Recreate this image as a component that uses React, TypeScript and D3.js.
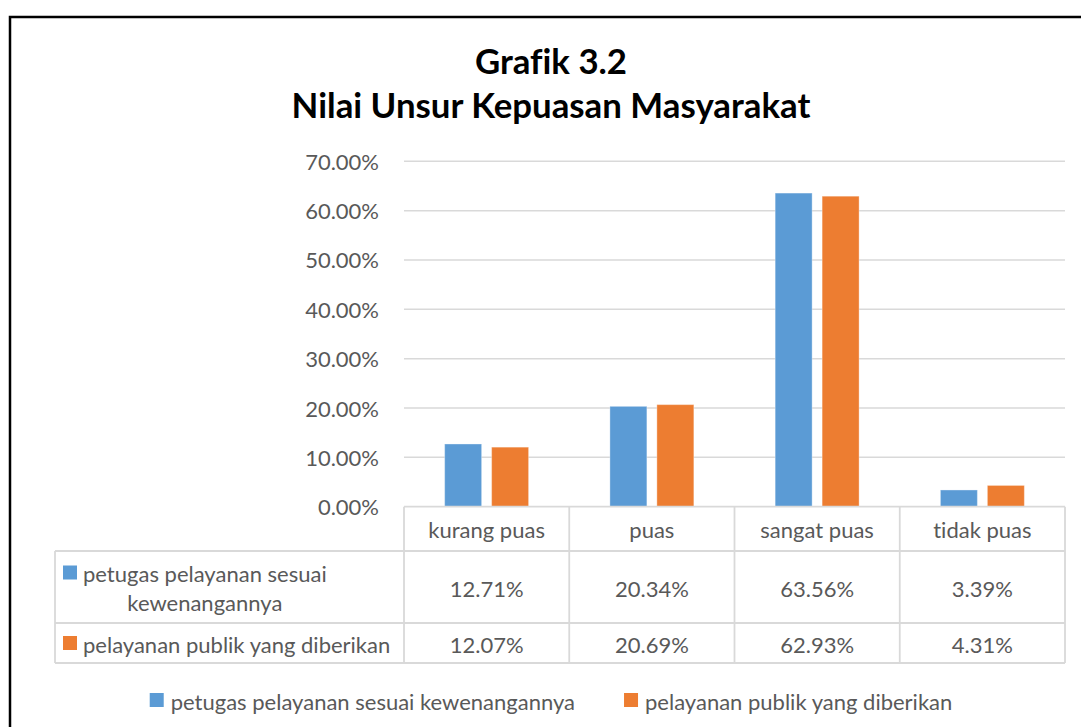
import React, { useEffect, useRef } from "react";
import * as d3 from "d3";

const titleLines = ["Grafik 3.2", "Nilai Unsur Kepuasan Masyarakat"];
const categories = ["kurang puas", "puas", "sangat puas", "tidak puas"];
const seriesNames = ["petugas pelayanan sesuai kewenangannya", "pelayanan publik yang diberikan"];
const seriesA = [12.71, 20.34, 63.56, 3.39];
const seriesB = [12.07, 20.69, 62.93, 4.31];
const yTicks = [0, 10, 20, 30, 40, 50, 60, 70];
const colors = ["#5B9BD5", "#ED7D31"];

export default function App() {
  const ref = useRef<SVGSVGElement>(null);
  useEffect(() => {
    const svg = d3.select(ref.current as SVGSVGElement);
    svg.selectAll("*").remove();
    svg.style("font-variant-ligatures", "none");
    const font = 'Lato, "Open Sans", sans-serif';
    const gray = "#595959";
    const grid = "#d9d9d9";
    const fs = 22;
    const series = [seriesA, seriesB];

    svg.append("rect").attr("x", 10).attr("y", 17).attr("width", 1100).attr("height", 740)
      .attr("fill", "#fff").attr("stroke", "#000").attr("stroke-width", 2.5);

    // Title
    const titleTarget = 519;
    const t2 = svg.append("text").attr("x", 551).attr("y", 118).attr("text-anchor", "middle")
      .attr("font-family", font).attr("font-weight", 700).attr("font-size", 34).attr("fill", "#000")
      .text(titleLines[1]);
    const w2 = (t2.node() as SVGTextElement).getComputedTextLength();
    const tfs = 34 * titleTarget / w2;
    t2.attr("font-size", tfs);
    svg.append("text").attr("x", 551).attr("y", 74).attr("text-anchor", "middle")
      .attr("font-family", font).attr("font-weight", 700).attr("font-size", tfs).attr("fill", "#000")
      .text(titleLines[0]);

    const plot = { left: 404, right: 1065, top: 161.3, bottom: 506.7 };
    const y = d3.scaleLinear().domain([0, 70]).range([plot.bottom, plot.top]);
    const x0 = d3.scaleBand<string>().domain(categories).range([plot.left, plot.right]).padding(0);
    const bw = x0.bandwidth();
    const outer = 0.246;

    // gridlines
    svg.append("g").selectAll("line").data(yTicks.filter(t => t > 0)).join("line")
      .attr("x1", plot.left).attr("x2", plot.right)
      .attr("y1", d => y(d)).attr("y2", d => y(d))
      .attr("stroke", grid).attr("stroke-width", 1.5);

    // y tick labels
    svg.append("g").selectAll("text").data(yTicks).join("text")
      .attr("x", 379).attr("y", d => y(d)).attr("text-anchor", "end").attr("dominant-baseline", "central")
      .attr("font-family", font).attr("font-size", fs).attr("fill", gray)
      .text(d => d.toFixed(2) + "%");

    // bars
    categories.forEach((c, i) => {
      const start = x0(c) as number;
      const x1 = d3.scaleBand<number>().domain([0, 1])
        .range([start + bw * outer, start + bw * (1 - outer)]).paddingInner(0.2128).paddingOuter(0);
      series.forEach((s, si) => {
        svg.append("rect").attr("x", x1(si) as number).attr("width", x1.bandwidth())
          .attr("y", y(s[i])).attr("height", y(0) - y(s[i]))
          .attr("fill", colors[si]).attr("stroke", "#fff").attr("stroke-opacity", 0.35).attr("stroke-width", 1);
      });
    });

    // data table
    const tLeft = 55;
    const rowY = [plot.bottom, 551, 623, 663];
    const tg = svg.append("g").attr("stroke", grid).attr("stroke-width", 1.8);
    tg.append("line").attr("x1", plot.left).attr("x2", plot.right).attr("y1", rowY[0]).attr("y2", rowY[0]);
    [rowY[1], rowY[2], rowY[3]].forEach(yy => {
      tg.append("line").attr("x1", tLeft).attr("x2", plot.right).attr("y1", yy).attr("y2", yy);
    });
    tg.append("line").attr("x1", tLeft).attr("x2", tLeft).attr("y1", rowY[1]).attr("y2", rowY[3]);
    [...categories.map(c => x0(c) as number), plot.right].forEach(xx => {
      tg.append("line").attr("x1", xx).attr("x2", xx).attr("y1", rowY[0]).attr("y2", rowY[3]);
    });

    // header labels
    svg.append("g").selectAll("text").data(categories).join("text")
      .attr("x", d => (x0(d) as number) + bw / 2).attr("y", (rowY[0] + rowY[1]) / 2 + 1)
      .attr("text-anchor", "middle").attr("dominant-baseline", "central")
      .attr("font-family", font).attr("font-size", fs).attr("fill", gray).text(d => d);

    // values
    series.forEach((s, si) => {
      const cy = (rowY[si + 1] + rowY[si + 2]) / 2 + 1;
      svg.append("g").selectAll("text").data(s).join("text")
        .attr("x", (_d, i) => (x0(categories[i]) as number) + bw / 2).attr("y", cy)
        .attr("text-anchor", "middle").attr("dominant-baseline", "central")
        .attr("font-family", font).attr("font-size", fs).attr("fill", gray)
        .text(d => d.toFixed(2) + "%");
    });

    // row labels with wrapping
    const measure = (txt: string) => {
      const t = svg.append("text").attr("font-family", font).attr("font-size", fs).text(txt);
      const w = (t.node() as SVGTextElement).getComputedTextLength();
      t.remove();
      return w;
    };
    const maxW = plot.left - 83 - 6;
    seriesNames.forEach((name, si) => {
      const words = name.split(" ");
      const lines: string[] = [];
      let cur = "";
      words.forEach(w => {
        const test = cur ? cur + " " + w : w;
        if (measure(test) > maxW && cur) { lines.push(cur); cur = w; } else cur = test;
      });
      lines.push(cur);
      const cy = (rowY[si + 1] + rowY[si + 2]) / 2;
      const lh = 29;
      const firstY = cy - (lines.length - 1) * lh / 2;
      const w0 = measure(lines[0]);
      svg.append("rect").attr("x", 63).attr("y", firstY - 7).attr("width", 14).attr("height", 14).attr("fill", colors[si]);
      lines.forEach((ln, li) => {
        svg.append("text").attr("x", li === 0 ? 83 : 83 + w0 / 2).attr("y", firstY + li * lh + 1)
          .attr("text-anchor", li === 0 ? "start" : "middle").attr("dominant-baseline", "central")
          .attr("font-family", font).attr("font-size", fs).attr("fill", gray).text(ln);
      });
    });

    // bottom legend
    const lw = seriesNames.map(measure);
    const total = lw[0] + lw[1] + 2 * 21 + 49;
    let lx = 551 - total / 2;
    seriesNames.forEach((name, si) => {
      svg.append("rect").attr("x", lx).attr("y", 693).attr("width", 14).attr("height", 14).attr("fill", colors[si]);
      svg.append("text").attr("x", lx + 21).attr("y", 701).attr("dominant-baseline", "central")
        .attr("font-family", font).attr("font-size", fs).attr("fill", gray).text(name);
      lx += 21 + lw[si] + 49;
    });
  }, []);

  return (
    <svg ref={ref} width={1081} height={727}
      style={{ position: "absolute", left: 0, top: 0, background: "#fff", overflow: "hidden" }} />
  );
}
